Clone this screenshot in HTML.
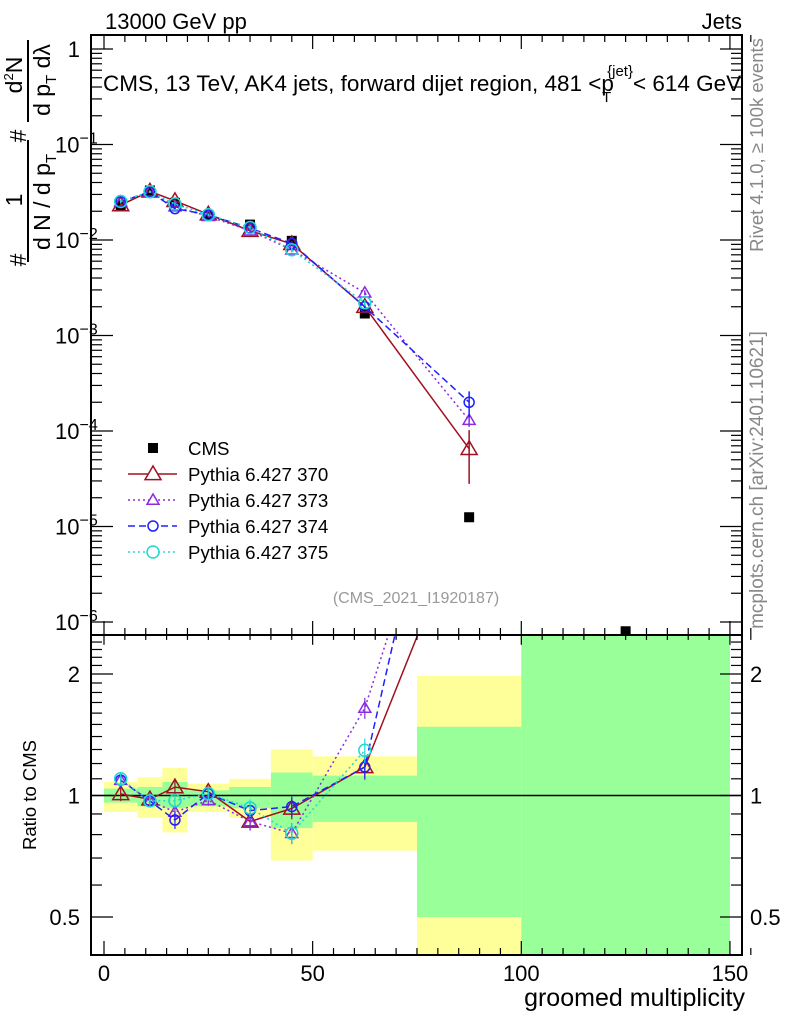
<!DOCTYPE html>
<html><head><meta charset="utf-8"><style>
html,body{margin:0;padding:0;background:#fff;}
svg{display:block;font-family:"Liberation Sans",Arial,sans-serif;}
</style></head><body>
<svg id="c" width="786" height="1024" viewBox="0 0 786 1024" xmlns="http://www.w3.org/2000/svg">
<defs>
<clipPath id="cm"><rect x="91" y="35" width="651" height="600"/></clipPath>
<clipPath id="cr"><rect x="91" y="635" width="651" height="320"/></clipPath>
</defs>
<g id="bands" clip-path="url(#cr)"></g>
<g id="mainMarks" clip-path="url(#cm)"></g>
<g id="ratioMarks" clip-path="url(#cr)"></g>
<g id="axes"></g>
<text x="105" y="29" font-size="22">13000 GeV pp</text>
<text x="742" y="29" font-size="22" text-anchor="end">Jets</text>
<text x="103" y="91" font-size="22.5">CMS, 13 TeV, AK4 jets, forward dijet region, 481 &lt;p<tspan font-size="15" dx="-12" dy="11">T</tspan><tspan font-size="15" dx="-4" dy="-26">{jet}</tspan><tspan dx="0" dy="15">&lt; 614 GeV</tspan></text>
<g font-size="23">
<text transform="translate(26,260) rotate(-90)" text-anchor="middle">#</text>
<text transform="translate(22,200) rotate(-90)" text-anchor="middle">1</text>
<line x1="28" y1="262" x2="28" y2="140" stroke="#000" stroke-width="2"/>
<text transform="translate(50,202) rotate(-90)" text-anchor="middle">d N / d p<tspan font-size="15" dy="6">T</tspan></text>
<text transform="translate(26,136) rotate(-90)" text-anchor="middle">#</text>
<text transform="translate(22,75) rotate(-90)" text-anchor="middle">d<tspan font-size="13" dy="-9">2</tspan><tspan dy="9">N</tspan></text>
<line x1="28" y1="122" x2="28" y2="40" stroke="#000" stroke-width="2"/>
<text transform="translate(50,80) rotate(-90)" text-anchor="middle">d p<tspan font-size="15" dy="6">T</tspan><tspan dy="-6"> dλ</tspan></text>
</g>
<text transform="translate(36,795) rotate(-90)" font-size="18.5" text-anchor="middle">Ratio to CMS</text>
<text x="745" y="1006" font-size="25" text-anchor="end">groomed multiplicity</text>
<text transform="translate(763,145) rotate(-90)" font-size="18.5" fill="#888" text-anchor="middle">Rivet 4.1.0, ≥ 100k events</text>
<text transform="translate(763,480) rotate(-90)" font-size="19" fill="#888" text-anchor="middle">mcplots.cern.ch [arXiv:2401.10621]</text>
<text x="416" y="603" font-size="16" fill="#999" text-anchor="middle">(CMS_2021_I1920187)</text>
<g id="legend"></g>
</svg>
<script>
const binEdges=[0,8,14,20,30,40,50,75,100,150];
const xCenters=[4,11,17,25,35,45,62.5,87.5,125];
const cmsVals=[0.0230,0.0330,0.0245,0.0182,0.0145,0.0098,0.0017,1.25e-5,8e-7];
const mc370=[0.0232,0.0323,0.0257,0.0186,0.0125,0.0091,0.0020,6.5e-5];
const mc373=[0.0251,0.0320,0.0223,0.0177,0.0125,0.0079,0.0028,1.3e-4];
const mc374=[0.0251,0.0320,0.0213,0.0184,0.0133,0.0092,0.0020,2.0e-4];
const mc375=[0.0253,0.0320,0.0238,0.0184,0.0135,0.0079,0.0022];
const mc370Err=[0.04,0.03,0.04,0.03,0.05,0.06,0.06,0.57];
const mc373Err=[0.04,0.03,0.04,0.03,0.05,0.06,0.06,0.15];
const mc374Err=[0.04,0.03,0.05,0.03,0.05,0.06,0.07,0.3];
const mc375Err=[0.04,0.03,0.04,0.03,0.05,0.06,0.07];
const yellowHi=[1.08,1.11,1.17,1.07,1.10,1.30,1.25,1.98,3.0];
const yellowLo=[0.91,0.88,0.81,0.91,0.88,0.69,0.73,0.30,0.30];
const greenHi=[1.04,1.05,1.08,1.03,1.05,1.14,1.12,1.48,3.0];
const greenLo=[0.96,0.94,0.93,0.94,0.93,0.83,0.86,0.50,0.30];
const xTicks=[0,50,100,150];
const yMainTicks=[0,-1,-2,-3,-4,-5,-6];
const yRatioTicks=[2,1,0.5];

const NS="http://www.w3.org/2000/svg";
const X=v=>104+4.173*v;
const YM=v=>49-95.5*Math.log10(v);
const YR=r=>795.5-121.5*Math.log2(r);
function mk(tag,attrs,parent){const e=document.createElementNS(NS,tag);for(const k in attrs)e.setAttribute(k,attrs[k]);parent.appendChild(e);return e;}
const bands=document.getElementById('bands'),mm=document.getElementById('mainMarks'),rm=document.getElementById('ratioMarks'),ax=document.getElementById('axes'),lg=document.getElementById('legend');

for(let i=0;i<binEdges.length-1;i++){
 const y=mk('rect',{x:X(binEdges[i]),width:X(binEdges[i+1])-X(binEdges[i]),y:YR(yellowHi[i]),height:YR(yellowLo[i])-YR(yellowHi[i]),fill:'#ffff99'},bands);
 
 
 const g=mk('rect',{x:X(binEdges[i]),width:X(binEdges[i+1])-X(binEdges[i]),y:YR(greenHi[i]),height:YR(greenLo[i])-YR(greenHi[i]),fill:'#99ff99'},bands);
 
 
}
const one=mk('line',{x1:91,x2:742,y1:YR(1),y2:YR(1),stroke:'#000','stroke-width':1.5},rm);



cmsVals.forEach((v,i)=>{
 const r=mk('rect',{x:X(xCenters[i])-5,y:YM(v)-5,width:10,height:10,fill:'#000'},mm);
 
 
});

const series=[
 {vals:mc370,err:mc370Err,col:'#a01020',dash:'',mark:'tri',size:8,name:'pythia-370'},
 {vals:mc373,err:mc373Err,col:'#8a2be2',dash:'2,3',mark:'tri',size:6,name:'pythia-373'},
 {vals:mc374,err:mc374Err,col:'#2020ff',dash:'7,4',mark:'circ',size:5,name:'pythia-374'},
 {vals:mc375,err:mc375Err,col:'#20d8d0',dash:'2,3',mark:'circ',size:6,name:'pythia-375'}
];
function marker(par,cx,cy,s){
 if(s.mark==='tri')return mk('polygon',{points:`${cx},${cy-s.size} ${cx-s.size},${cy+s.size*0.7} ${cx+s.size},${cy+s.size*0.7}`,fill:'none',stroke:s.col,'stroke-width':1.5},par);
 return mk('circle',{cx:cx,cy:cy,r:s.size,fill:'none',stroke:s.col,'stroke-width':1.5},par);
}
series.forEach(s=>{
 const pm=s.vals.map((v,i)=>X(xCenters[i])+','+YM(v)).join(' ');
 const l=mk('polyline',{points:pm,fill:'none',stroke:s.col,'stroke-width':1.5,'stroke-dasharray':s.dash},mm);
 
 
 const pr=s.vals.map((v,i)=>X(xCenters[i])+','+YR(v/cmsVals[i])).join(' ');
 const lr=mk('polyline',{points:pr,fill:'none',stroke:s.col,'stroke-width':1.5,'stroke-dasharray':s.dash},rm);
 
 
 s.vals.forEach((v,i)=>{
  const cx=X(xCenters[i]);
  const e=v*s.err[i];
  const lo=Math.max(v-e,v*0.05);
  mk('line',{x1:cx,x2:cx,y1:YM(v+e),y2:YM(lo),stroke:s.col,'stroke-width':1.5},mm);
  const m=marker(mm,cx,YM(v),s);
  
  
  const r=v/cmsVals[i];
  if(r>2.5)return;
  mk('line',{x1:cx,x2:cx,y1:YR(r*(1+s.err[i])),y2:YR(r*(1-s.err[i])),stroke:s.col,'stroke-width':1.2},rm);
  const m2=marker(rm,cx,YR(r),s);
  
  
 });
});

[[35,635],[635,955]].forEach(([t,b])=>{
 const f=mk('rect',{x:91,y:t,width:651,height:b-t,fill:'none',stroke:'#000','stroke-width':2},ax);
 
 
});
for(let v=0;v<=155;v+=5){
 const len=v%50===0?14:7;
 [[635,1],[955,-1],[35,1],[635,-1]].forEach(([y,d])=>mk('line',{x1:X(v),x2:X(v),y1:y,y2:y+d*len*(y===635&&d===1?0.7:1),stroke:'#000','stroke-width':1.2},ax));
}
xTicks.forEach(v=>{
 const t=mk('text',{x:X(v),y:981,'font-size':22,'text-anchor':'middle'},ax);
 t.textContent=v;
 
 
});
for(let d=0;d>=-6;d--){
 for(let k=1;k<10;k++){
  const v=k*Math.pow(10,d-1);
  const y=YM(v*10);
  if(y<35||y>635)continue;
  const len=k===1?22:11;
  mk('line',{x1:91,x2:91+len,y1:y,y2:y,stroke:'#000','stroke-width':1.2},ax);
  mk('line',{x1:742,x2:742-len,y1:y,y2:y,stroke:'#000','stroke-width':1.2},ax);
 }
}
yMainTicks.forEach(d=>{
 const y=YM(Math.pow(10,d));
 const t=mk('text',{x:d===0?80:82,y:y+8,'font-size':22,'text-anchor':'end'},ax);
 
 
 if(d===0){t.textContent='1';}
 else{t.textContent='10';const s=document.createElementNS(NS,'tspan');s.setAttribute('font-size',16);s.setAttribute('dy',-9);s.textContent='−'+(-d);t.appendChild(s);t.setAttribute('x',55);t.setAttribute('text-anchor','start');}
});
[0.4,0.5,0.6,0.7,0.8,0.9,1,1.1,1.2,1.3,1.4,1.5,1.6,1.7,1.8,1.9,2,2.1,2.2,2.3,2.4].forEach(r=>{
 const y=YR(r); if(y<635||y>955)return;
 const len=(r===0.5||r===1||r===2)?22:11;
 mk('line',{x1:91,x2:91+len,y1:y,y2:y,stroke:'#000','stroke-width':1.2},ax);
 mk('line',{x1:742,x2:742-len,y1:y,y2:y,stroke:'#000','stroke-width':1.2},ax);
});
yRatioTicks.forEach(r=>{
 const t=mk('text',{x:80,y:YR(r)+8,'font-size':22,'text-anchor':'end'},ax);
 t.textContent=r;
 
 
 const t2=mk('text',{x:750,y:YR(r)+8,'font-size':22},ax);
 t2.textContent=r;
 
 
});
const legNames=['CMS','Pythia 6.427 370','Pythia 6.427 373','Pythia 6.427 374','Pythia 6.427 375'];
legNames.forEach((n,i)=>{
 const y=448+26*i;
 const g=mk('g',{},lg);
 
 
 if(i===0)mk('rect',{x:148,y:y-5,width:10,height:10,fill:'#000'},g);
 else{const s=series[i-1];mk('line',{x1:128,x2:177,y1:y,y2:y,stroke:s.col,'stroke-width':1.5,'stroke-dasharray':s.dash},g);const m=marker(g,153,y,s);m.setAttribute('fill','#fff');}
 const t=mk('text',{x:188,y:y+7,'font-size':18.7},g);
 t.textContent=n;
});
</script>
</body></html>
